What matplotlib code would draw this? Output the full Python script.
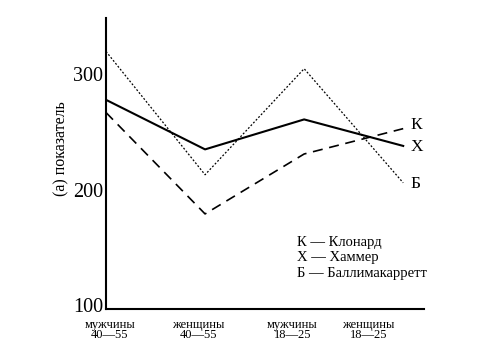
import matplotlib.pyplot as plt

plt.rcParams['font.family'] = ['Liberation Serif', 'DejaVu Serif']

groups = ['мужчины\n40—55', 'женщины\n40—55', 'мужчины\n18—25', 'женщины\n18—25']
hammer = [278, 235, 261, 238]
clonard = [267, 179, 231, 253]
ballymac = [320, 213, 305, 206]
end_tags = ['К', 'Х', 'Б']
legend_lines = ['К — Клонард', 'Х — Хаммер', 'Б — Баллимакарретт']

xs = range(len(groups))

fig = plt.figure(figsize=(4.95, 3.51), dpi=100)
ax = fig.add_axes([106/495, 1-309/351, (424-106)/495, (309-18)/351])

ax.plot(xs, hammer, color='black', lw=1.5)
ax.plot(xs, clonard, color='black', lw=1.2, dashes=(6, 4))
ax.plot(xs, ballymac, color='black', lw=0.9, ls=(0, (1.5, 1.5)))

ax.set_xlim(0, 3.21)
ax.set_ylim(96.5, 349)
ax.set_yticks([100, 200, 300])
ax.tick_params(axis='y', length=0, labelsize=14.5, pad=2)
ax.set_xticks([0.04, 0.93, 1.88, 2.65])
ax.set_xticklabels(groups, fontsize=9, linespacing=0.8)
ax.tick_params(axis='x', length=0, pad=7)
for s in ['top', 'right']:
    ax.spines[s].set_visible(False)
for s in ['left', 'bottom']:
    ax.spines[s].set_linewidth(1.5)

ax.text(-0.45, 236, '(а) показатель', rotation=90, fontsize=11.5,
        ha='center', va='center')

# end labels next to last points
for tag, y in zip(end_tags, [clonard[-1] + 3, hammer[-1] - 1, ballymac[-1] - 1]):
    ax.text(3.07, y, tag, fontsize=12.5, ha='left', va='center')

for i, t in enumerate(legend_lines):
    ax.text(1.93, 154.5 - i * 13.7, t, fontsize=10.5, ha='left', va='center')

fig.savefig('out.png', dpi=100)
